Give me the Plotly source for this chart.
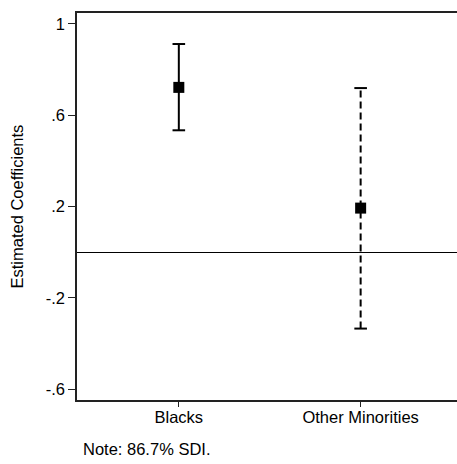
import plotly.graph_objects as go

categories = ["Blacks", "Other Minorities"]
positions = [1, 2]
coef = [0.722, 0.193]
lower = [0.534, -0.335]
upper = [0.912, 0.719]
dashes = ["solid", "7px,4px"]

ytick_vals = [-0.6, -0.2, 0.2, 0.6, 1.0]
ytick_text = ["-.6", "-.2", ".2", ".6", "1"]

FONT = "Liberation Sans, Arial, Helvetica, sans-serif"
FS = 16.5

fig = go.Figure()
for i in range(len(categories)):
    fig.add_trace(go.Scatter(
        x=[positions[i], positions[i]], y=[lower[i], upper[i]],
        mode="lines", line=dict(color="black", width=2, dash=dashes[i]),
        hoverinfo="skip", showlegend=False))
    fig.add_trace(go.Scatter(
        x=[positions[i], positions[i]], y=[lower[i], upper[i]],
        mode="markers",
        marker=dict(symbol="line-ew", size=9, line=dict(color="black", width=2)),
        hoverinfo="skip", showlegend=False))

fig.add_trace(go.Scatter(
    x=positions, y=coef, mode="markers",
    marker=dict(symbol="square", size=11, color="black"),
    showlegend=False))

fig.update_layout(
    width=457, height=464,
    margin=dict(l=77, r=0, t=13, b=64),
    paper_bgcolor="white", plot_bgcolor="white",
    font=dict(family=FONT, size=FS, color="black"),
    xaxis=dict(
        range=[0.44, 2.53], tickvals=positions, ticktext=categories,
        showgrid=False, zeroline=False,
        showline=True, linecolor="#222", linewidth=1.5, mirror=True,
        ticks="outside", ticklen=5, tickcolor="#222", tickwidth=1,
        tickfont=dict(size=FS), ticklabelstandoff=-4,
    ),
    yaxis=dict(
        range=[-0.648, 1.048], tickvals=ytick_vals, ticktext=ytick_text,
        showgrid=False,
        zeroline=True, zerolinecolor="black", zerolinewidth=1.2,
        showline=True, linecolor="#222", linewidth=1.5,
        ticks="outside", ticklen=7, tickcolor="#222", tickwidth=1,
        tickfont=dict(size=FS),
    ),
    annotations=[
        dict(text="Estimated Coefficients", textangle=-90,
             xref="paper", yref="paper", x=-(77 - 16) / 380, y=0.5,
             xanchor="center", yanchor="middle", showarrow=False,
             font=dict(size=FS)),
        dict(text="Note: 86.7% SDI.",
             xref="paper", yref="paper", x=(81 - 77) / 380, y=(400 - 449) / 387,
             xanchor="left", yanchor="middle", showarrow=False,
             font=dict(size=FS)),
    ],
)

fig.write_html(
    "out.html",
    config={"displayModeBar": False},
    post_script="document.body.style.margin='0';document.body.style.overflow='hidden';",
)
